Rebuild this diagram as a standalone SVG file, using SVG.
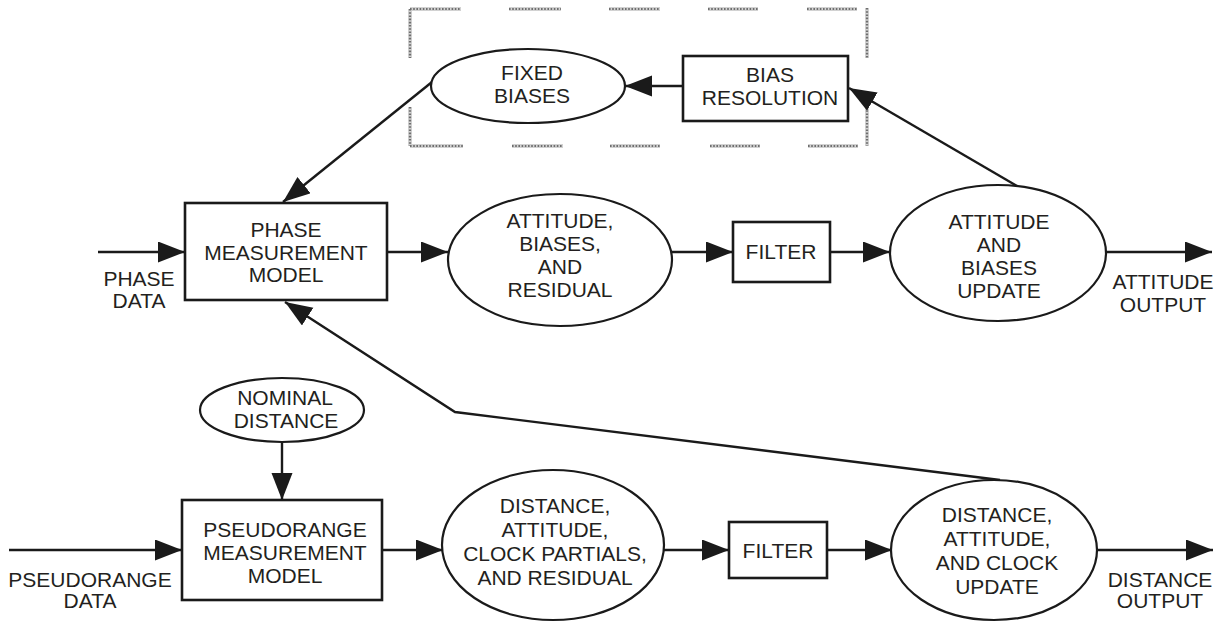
<svg xmlns="http://www.w3.org/2000/svg" width="1226" height="627" viewBox="0 0 1226 627">
  <style>
    .box { fill: #fff; stroke: #1a1a1a; stroke-width: 2.6; }
    .oval { fill: #fff; stroke: #1a1a1a; stroke-width: 2.2; }
    .wire { fill: none; stroke: #1a1a1a; stroke-width: 2.4; }
    .frame-base { fill: none; stroke: #d2d2d2; stroke-width: 4; }
    .frame-dots { fill: none; stroke: #6e6e6e; stroke-width: 2.2; stroke-dasharray: 1.6 1.6; }
    text { font-family: "Liberation Sans", Arial, sans-serif; font-size: 21px; fill: #231f20; text-anchor: middle; }
  </style>
  <defs>
    <marker id="head" markerUnits="userSpaceOnUse" markerWidth="28" markerHeight="22" refX="27" refY="10.5" orient="auto">
      <path d="M0,0 L27,10.5 L0,21 Z" fill="#1a1a1a"/>
    </marker>
    <!-- dotted frame segments, drawn twice: a pale band and the dot row on top -->
    <g id="frame-segs">
      <path d="M410,9 H461 M509,9 H561 M609,9 H660 M708,9 H758 M807,9 H857
               M410,146 H463 M512,146 H563 M610,146 H660 M710,146 H760 M808,146 H858
               M410,9 V58 M410,107 V146 M867,8 V58 M867,107 V146"/>
    </g>
  </defs>
  <rect width="1226" height="627" fill="#fff"/>

  <!-- dotted frame around the bias loop -->
  <g id="bias-frame">
    <use href="#frame-segs" class="frame-base"/>
    <use href="#frame-segs" class="frame-dots"/>
  </g>

  <!-- connectors -->
  <g id="connectors" class="wire">
    <line x1="98" y1="252" x2="185" y2="252" marker-end="url(#head)"/>
    <line x1="387" y1="252" x2="448" y2="252" marker-end="url(#head)"/>
    <line x1="672" y1="252" x2="733" y2="252" marker-end="url(#head)"/>
    <line x1="830" y1="252" x2="890" y2="252" marker-end="url(#head)"/>
    <line x1="1106" y1="252" x2="1212" y2="252" marker-end="url(#head)"/>
    <line x1="1017" y1="186" x2="849" y2="88" marker-end="url(#head)"/>
    <line x1="683" y1="86" x2="625" y2="86" marker-end="url(#head)"/>
    <line x1="432" y1="82" x2="283" y2="202" marker-end="url(#head)"/>
    <polyline points="1000,480 455,412 285,302" marker-end="url(#head)"/>
    <line x1="282" y1="443" x2="282" y2="500" marker-end="url(#head)"/>
    <line x1="9" y1="550" x2="182" y2="550" marker-end="url(#head)"/>
    <line x1="382" y1="550" x2="443" y2="550" marker-end="url(#head)"/>
    <line x1="664" y1="550" x2="729" y2="550" marker-end="url(#head)"/>
    <line x1="827" y1="550" x2="892" y2="550" marker-end="url(#head)"/>
    <line x1="1097" y1="550" x2="1213" y2="550" marker-end="url(#head)"/>
  </g>

  <g id="fixed-biases">
    <ellipse class="oval" cx="528" cy="86" rx="97" ry="37"/>
    <text x="532" y="80">FIXED</text>
    <text x="532" y="103">BIASES</text>
  </g>

  <g id="bias-resolution">
    <rect class="box" x="683" y="56" width="165" height="65"/>
    <text x="770" y="82">BIAS</text>
    <text x="770" y="105">RESOLUTION</text>
  </g>

  <g id="phase-model">
    <rect class="box" x="185" y="203" width="202" height="97"/>
    <text x="286" y="237">PHASE</text>
    <text x="286" y="260">MEASUREMENT</text>
    <text x="286" y="282">MODEL</text>
  </g>

  <g id="phase-data">
    <text x="139" y="286">PHASE</text>
    <text x="139" y="308">DATA</text>
  </g>

  <g id="attitude-residual">
    <ellipse class="oval" cx="560" cy="260" rx="112" ry="66"/>
    <text x="560" y="228">ATTITUDE,</text>
    <text x="560" y="251">BIASES,</text>
    <text x="560" y="274">AND</text>
    <text x="560" y="297">RESIDUAL</text>
  </g>

  <g id="attitude-filter">
    <rect class="box" x="733" y="222" width="97" height="60"/>
    <text x="781" y="259">FILTER</text>
  </g>

  <g id="attitude-update">
    <ellipse class="oval" cx="998" cy="253" rx="108" ry="68"/>
    <text x="999" y="229">ATTITUDE</text>
    <text x="999" y="252">AND</text>
    <text x="999" y="275">BIASES</text>
    <text x="999" y="298">UPDATE</text>
  </g>

  <g id="attitude-output">
    <text x="1163" y="289">ATTITUDE</text>
    <text x="1163" y="312">OUTPUT</text>
  </g>

  <g id="nominal-distance">
    <ellipse class="oval" cx="282" cy="410" rx="82" ry="32"/>
    <text x="285" y="405">NOMINAL</text>
    <text x="286" y="428">DISTANCE</text>
  </g>

  <g id="pseudorange-model">
    <rect class="box" x="182" y="500" width="200" height="100"/>
    <text x="285" y="537">PSEUDORANGE</text>
    <text x="285" y="560">MEASUREMENT</text>
    <text x="285" y="583">MODEL</text>
  </g>

  <g id="pseudorange-data">
    <text x="90" y="587">PSEUDORANGE</text>
    <text x="90" y="608">DATA</text>
  </g>

  <g id="distance-partials">
    <ellipse class="oval" cx="553" cy="545" rx="111" ry="75"/>
    <text x="555" y="513">DISTANCE,</text>
    <text x="555" y="537">ATTITUDE,</text>
    <text x="555" y="561">CLOCK PARTIALS,</text>
    <text x="555" y="585">AND RESIDUAL</text>
  </g>

  <g id="distance-filter">
    <rect class="box" x="729" y="522" width="98" height="56"/>
    <text x="778" y="558">FILTER</text>
  </g>

  <g id="distance-update">
    <ellipse class="oval" cx="994" cy="550" rx="103" ry="70"/>
    <text x="997" y="522">DISTANCE,</text>
    <text x="997" y="546">ATTITUDE,</text>
    <text x="997" y="570">AND CLOCK</text>
    <text x="997" y="594">UPDATE</text>
  </g>

  <g id="distance-output">
    <text x="1160" y="587">DISTANCE</text>
    <text x="1160" y="608">OUTPUT</text>
  </g>
</svg>
